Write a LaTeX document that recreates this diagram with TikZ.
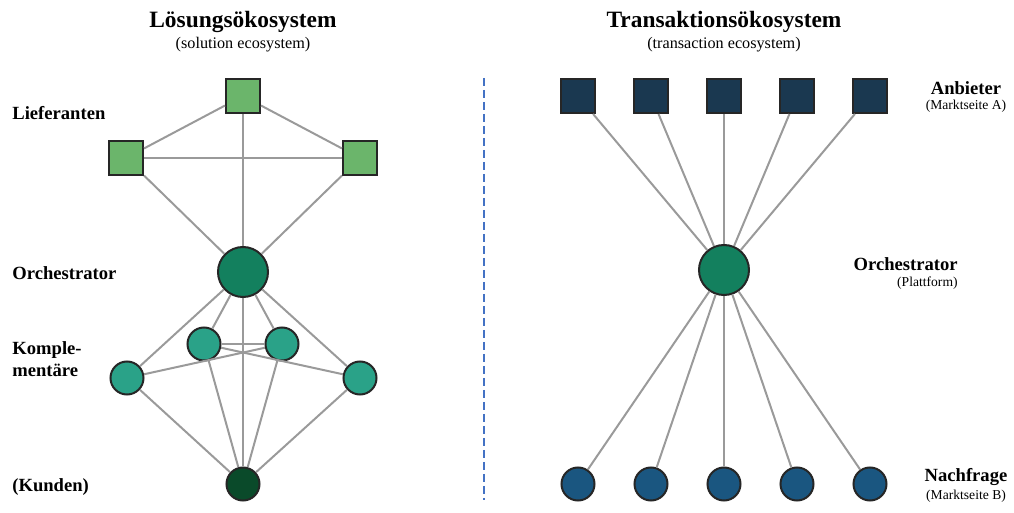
\documentclass[tikz,border=0pt]{standalone}
\usepackage{fontspec}
\setmainfont{Liberation Serif}
\usetikzlibrary{positioning}

\definecolor{linegray}{HTML}{9A9A9A}
\definecolor{suppgreen}{HTML}{6BB56B}
\definecolor{orchgreen}{HTML}{13805E}
\definecolor{compgreen}{HTML}{2AA288}
\definecolor{custgreen}{HTML}{0A4A2A}
\definecolor{sellnavy}{HTML}{1A3850}
\definecolor{buyblue}{HTML}{1A5680}
\definecolor{sepblue}{HTML}{4472C4}

\begin{document}
\begin{tikzpicture}[x=0.5pt,y=-0.5pt,
link/.style={draw=linegray,line width=1pt},
sq/.style={rectangle,draw=black!85,line width=1pt,minimum size=17pt,inner sep=0pt},
bigc/.style={circle,draw=black!85,line width=1pt,minimum size=25pt,inner sep=0pt,fill=orchgreen},
smallc/.style={circle,draw=black!85,line width=1pt,minimum size=16.5pt,inner sep=0pt},
title/.style={font=\fontsize{11.7}{13}\selectfont\bfseries,inner sep=0pt},
subtitle/.style={font=\fontsize{8.1}{10}\selectfont,inner sep=0pt},
rolelabel/.style={font=\fontsize{9.3}{11}\selectfont\bfseries,anchor=west,align=left,inner sep=0pt},
sidehead/.style={font=\fontsize{9.3}{11}\selectfont\bfseries,inner sep=0pt},
sidelabel/.style={font=\fontsize{6.8}{8}\selectfont,inner sep=0pt}]

\useasboundingbox (0,0) rectangle (1014,513);

% titles
\node[title] (t1) at (243,22) {Lösungsökosystem};
\node[subtitle] (s1) at (243,45) {(solution ecosystem)};
\node[title] (t2) at (724,22) {Transaktionsökosystem};
\node[subtitle] (s2) at (724,45) {(transaction ecosystem)};

% separator
\draw[sepblue,line width=1.3pt,dash pattern=on 4pt off 2pt] (484,78) -- (484,500);

%solution ecosystem
\node[sq,fill=suppgreen] (l1) at (243,96) {};
\node[sq,fill=suppgreen] (l2) at (126,158) {};
\node[sq,fill=suppgreen] (l3) at (360,158) {};
\node[bigc] (o1) at (243,272) {};
\node[smallc,fill=compgreen] (k1) at (127,378) {};
\node[smallc,fill=compgreen] (k2) at (204,344) {};
\node[smallc,fill=compgreen] (k3) at (282,344) {};
\node[smallc,fill=compgreen] (k4) at (360,378) {};
\node[smallc,fill=custgreen] (c1) at (243,484) {};

\draw[link] (l1) -- (l2);
\draw[link] (l1) -- (l3);
\draw[link] (l2) -- (l3);
\draw[link] (l1) -- (o1);
\draw[link] (l2) -- (o1);
\draw[link] (l3) -- (o1);
\draw[link] (o1) -- (c1);
\draw[link] (k2) -- (k3);
\draw[link] (k1) -- (k3);
\draw[link] (k2) -- (k4);
\foreach \k in {k1,k2,k3,k4}{
  \draw[link] (o1) -- (\k);
  \draw[link] (\k) -- (c1);
}

\node[rolelabel] (r1) at (12,113) {Lieferanten};
\node[rolelabel] (r2) at (12,273) {Orchestrator};
\node[rolelabel] (r3) at (12,359) {Komple-\\mentäre};
\node[rolelabel] (r4) at (12,487) {(Kunden)};

%transaction ecosystem
\node[bigc] (o2) at (724,270) {};
\foreach \i/\x in {1/578,2/651,3/724,4/797,5/870}{
  \node[sq,fill=sellnavy] (a\i) at (\x,96) {};
  \node[smallc,fill=buyblue] (n\i) at (\x,484) {};
  \draw[link] (a\i) -- (o2);
  \draw[link] (o2) -- (n\i);
}

\node[sidehead] (p1) at (966,88) {Anbieter};
\node[sidelabel] (q1) at (966,106) {(Marktseite A)};
\node[sidehead,anchor=east] (p2) at (958,264) {Orchestrator};
\node[sidelabel,anchor=east] (q2) at (958,283) {(Plattform)};
\node[sidehead] (p3) at (966,477) {Nachfrage};
\node[sidelabel] (q3) at (966,496) {(Marktseite B)};
\end{tikzpicture}
\end{document}
